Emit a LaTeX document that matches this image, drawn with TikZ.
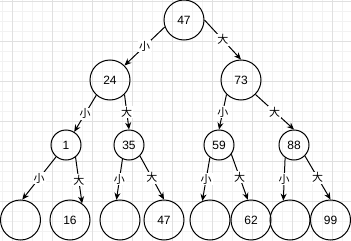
\documentclass[tikz,border=0pt]{standalone}
\usepackage{fontspec}
\setmainfont{Liberation Sans}
\newfontfamily\cjk{Noto Sans CJK SC}
\usetikzlibrary{arrows.meta}

\begin{document}
\begin{tikzpicture}[>={Stealth[length=7pt,width=6pt]}, x=1pt, y=-1pt]
        \tikzstyle{bignode}=[circle, draw=black, line width=1pt, minimum size=40pt, inner sep=0pt, font=\fontsize{12}{14}\selectfont]
        \tikzstyle{smallnode}=[bignode, minimum size=30pt]
        \tikzstyle{edgelabel}=[fill=white, inner sep=1pt, font=\cjk\fontsize{11}{13}\selectfont]
        \tikzstyle{link}=[->, line width=1pt]
        \useasboundingbox (0,0) rectangle (351,241);
        % background grid
        \foreach \x in {1.7,11.7,...,351} \draw[black!5] (\x,0) -- (\x,241);
        \foreach \y in {0.7,10.7,...,241} \draw[black!5] (0,\y) -- (351,\y);
        \foreach \x in {11.7,51.7,...,351} \draw[black!12] (\x,0) -- (\x,241);
        \foreach \y in {0.7,40.7,...,241} \draw[black!12] (0,\y) -- (351,\y);
        % tree
        \node[bignode] (n47) at (184,20) {47};
        \node[bignode] (n24) at (110,80) {24};
        \node[bignode] (n73) at (241,80) {73};
        \node[smallnode] (n1) at (66,145) {1};
        \node[smallnode] (n35) at (129,145) {35};
        \node[smallnode] (n59) at (219,145) {59};
        \node[smallnode] (n88) at (294,145) {88};
        \node[bignode] (e1) at (20.5,220) {};
        \node[bignode] (n16) at (70,220) {16};
        \node[bignode] (e2) at (120,220) {};
        \node[bignode] (n47b) at (164,220) {47};
        \node[bignode] (e3) at (210,220) {};
        \node[bignode] (n62) at (251,220) {62};
        \node[bignode] (e4) at (290,220) {};
        \node[bignode] (n99) at (330.5,220) {99};
        % edges
        \draw[link] (n47.200) -- node[edgelabel] {小} (n24.45);
        \draw[link] (n47.east) -- node[edgelabel] {大} (n73.north);
        \draw[link] (n24.228) -- node[edgelabel] {小} (n1.58);
        \draw[link] (n24.315) -- node[edgelabel] {大} (n35.north);
        \draw[link] (n73.225) -- node[edgelabel] {小} (n59.north);
        \draw[link] (n73.315) -- node[edgelabel] {大} (n88.north);
        \draw[link] (n1.230) -- node[edgelabel] {小} (e1.85);
        \draw[link] (n1.308) -- node[edgelabel] {大} (n16.54);
        \draw[link] (n35.245) -- node[edgelabel] {小} (e2.100);
        \draw[link] (n35.315) -- node[edgelabel] {大} (n47b.north);
        \draw[link] (n59.234) -- node[edgelabel] {小} (e3.112);
        \draw[link] (n59.323) -- node[edgelabel] {大} (n62.99);
        \draw[link] (n88.235) -- node[edgelabel] {小} (e4.109);
        \draw[link] (n88.315) -- node[edgelabel] {大} (n99.north);
    \end{tikzpicture}
\end{document}
